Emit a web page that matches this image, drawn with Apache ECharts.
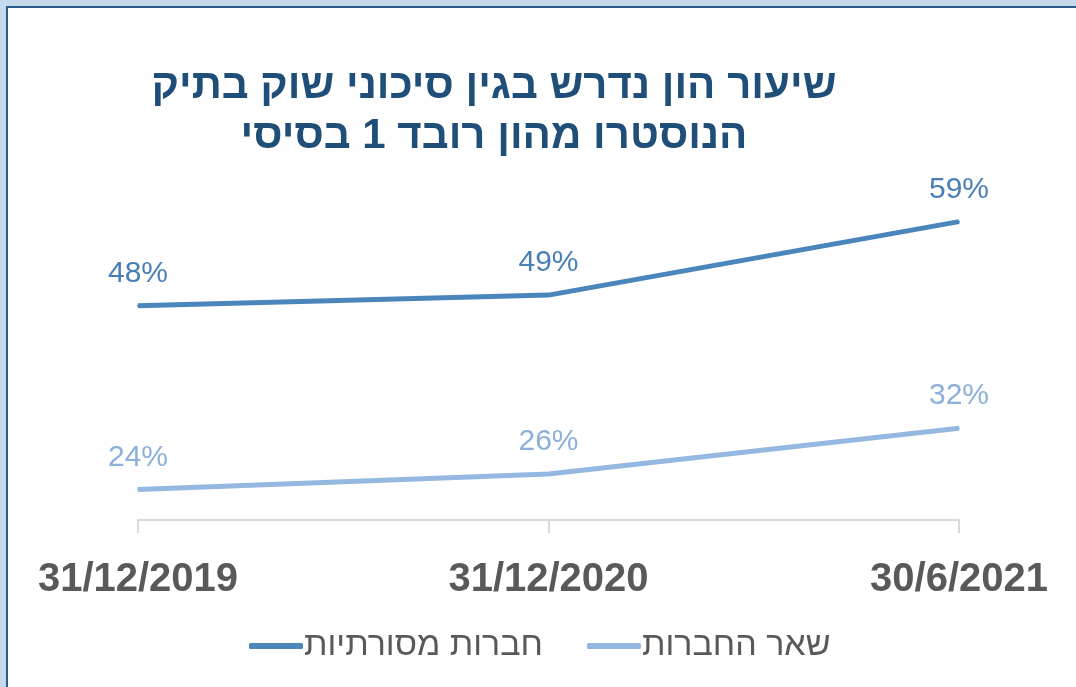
<!DOCTYPE html>
<html>
<head>
<meta charset="utf-8">
<script src="https://cdn.jsdelivr.net/npm/echarts@6/dist/echarts.min.js"></script>
<style>
  html, body { margin: 0; padding: 0; background: #c6daee; }
  #frame {
    position: absolute; left: 6px; top: 6px; right: 0; bottom: 0;
    border-left: 2px solid #2c5b8c; border-top: 2px solid #2c5b8c;
    background: #ffffff;
  }
  #myChart { position: absolute; left: -8px; top: -8px; width: 1076px; height: 687px; }
</style>
</head>
<body>
<div id="frame"><div id="myChart"></div></div>
<script>
// תאריכים (ציר X)
var dates = ["31/12/2019", "31/12/2020", "30/6/2021"];
// שמות הסדרות
var seriesNames = ["חברות מסורתיות", "שאר החברות"];
// ערכים באחוזים
var traditional = [48, 49.4, 59];
var others = [24, 26, 32];

var titleLines = ["שיעור הון נדרש בגין סיכוני שוק בתיק", "הנוסטרו מהון רובד 1 בסיסי"];

var hebFont = "Liberation Sans";

var myChart = echarts.init(document.getElementById("myChart"));

function pctLabel(color) {
  return {
    show: true,
    position: "top",
    distance: 16,
    fontFamily: "Liberation Sans",
    fontSize: 30,
    color: color,
    formatter: function (p) { return Math.round(p.value) + "%"; },
  };
}

myChart.setOption({
  animation: false,
  title: {
    text: titleLines.join("\n"),
    left: 489,
    top: 56,
    textAlign: "center",
    textStyle: {
      fontFamily: hebFont,
      fontSize: 42,
      fontWeight: "bold",
      color: "#1f4e79",
      lineHeight: 50,
    },
  },
  legend: {
    data: seriesNames,
    left: 244,
    top: 624,
    itemWidth: 54,
    itemHeight: 6,
    itemGap: 44,
    icon: "roundRect",
    textStyle: {
      fontFamily: hebFont,
      fontSize: 34,
      color: "#595959",
      padding: [0, 0, 0, -4],
    },
  },
  grid: {
    left: 138,
    right: 117,
    top: 214,
    bottom: 167,
  },
  xAxis: {
    type: "category",
    data: dates,
    boundaryGap: false,
    axisLine: { lineStyle: { color: "#d9d9d9", width: 2 } },
    axisTick: { show: true, length: 13, lineStyle: { color: "#d9d9d9", width: 2 } },
    axisLabel: {
      margin: 40,
      fontFamily: "Liberation Sans",
      fontSize: 40,
      fontWeight: "bold",
      color: "#595959",
    },
  },
  yAxis: {
    type: "value",
    min: 20,
    max: 60,
    show: false,
    splitLine: { show: false },
  },
  series: [
    {
      name: seriesNames[0],
      type: "line",
      data: traditional,
      symbol: "circle",
      symbolSize: 2,
      showSymbol: true,
      color: "#4a86bc",
      itemStyle: { color: "#4a86bc" },
      lineStyle: { width: 5, color: "#4a86bc" },
      label: pctLabel("#4a7fb5"),
    },
    {
      name: seriesNames[1],
      type: "line",
      data: others,
      symbol: "circle",
      symbolSize: 2,
      showSymbol: true,
      color: "#95b8e0",
      itemStyle: { color: "#95b8e0" },
      lineStyle: { width: 5, color: "#95b8e0" },
      label: pctLabel("#8cb0da"),
    },
  ],
});
</script>
</body>
</html>
